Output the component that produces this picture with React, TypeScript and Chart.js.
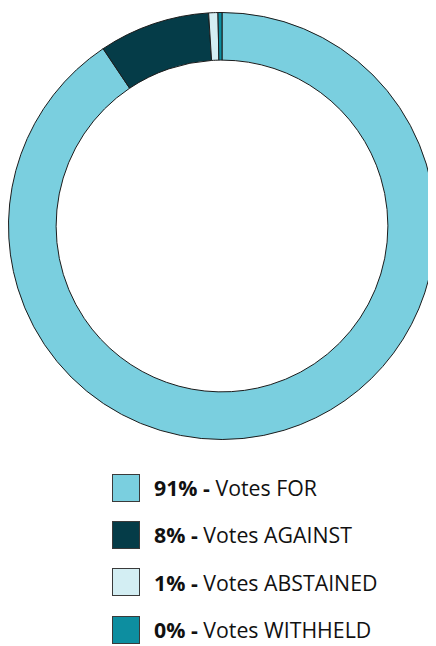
import React, { useEffect, useRef } from "react";
import { Chart, registerables } from "chart.js";

Chart.register(...registerables);

const categories = ["Votes FOR", "Votes AGAINST", "Votes ABSTAINED", "Votes WITHHELD"];
const shares = [90.6, 8.4, 0.7, 0.3];
const percentLabels = ["91%", "8%", "1%", "0%"];
const colors = ["#7acfdf", "#053c48", "#d3eef3", "#0d8ea0"];

export default function App() {
  const canvasRef = useRef<HTMLCanvasElement | null>(null);

  useEffect(() => {
    const canvas = canvasRef.current;
    if (!canvas) return;
    const chart = new Chart(canvas, {
      type: "doughnut",
      data: {
        labels: categories,
        datasets: [
          {
            data: shares,
            backgroundColor: colors,
            borderColor: "#1b1b1b",
            borderWidth: 1,
          },
        ],
      },
      options: {
        animation: false,
        responsive: false,
        maintainAspectRatio: false,
        cutout: "77.7%",
        layout: { padding: 0 },
        plugins: {
          legend: { display: false },
          tooltip: { enabled: false },
        },
        events: [],
      },
    });
    return () => chart.destroy();
  }, []);

  return (
    <div style={{ fontFamily: "'Open Sans', sans-serif" }}>
      <div style={{ width: 428, height: 436 }}>
        <canvas ref={canvasRef} width={428} height={436} style={{ display: "block" }} />
      </div>
      <div style={{ marginTop: 20, paddingLeft: 104 }}>
        {categories.map((c, i) => (
          <div
            key={c}
            style={{ display: "flex", alignItems: "center", height: 47.33 }}
          >
            <div
              style={{
                width: 28,
                height: 28,
                boxSizing: "border-box",
                border: "1px solid #3a3a3a",
                background: colors[i],
                flex: "0 0 auto",
              }}
            />
            <div style={{ marginLeft: 14, fontSize: 21.3, color: "#111", whiteSpace: "nowrap" }}>
              <b>{percentLabels[i]} -</b> {c}
            </div>
          </div>
        ))}
      </div>
    </div>
  );
}
